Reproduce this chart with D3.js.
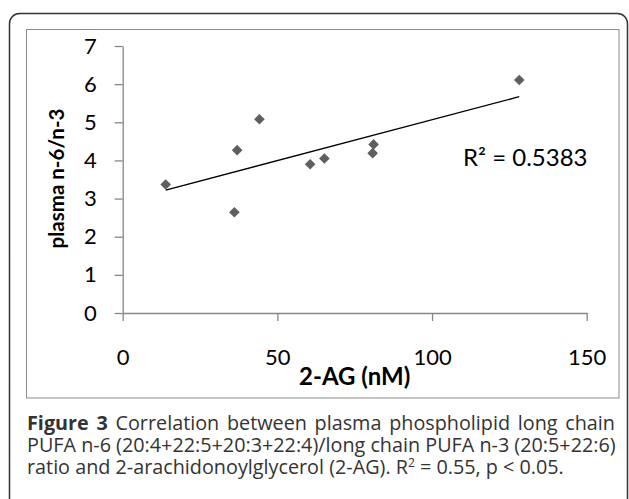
<!DOCTYPE html>
<html>
<head>
<meta charset="utf-8">
<script src="https://cdn.jsdelivr.net/npm/d3@7"></script>
<style>
  body { margin: 0; background: #fff; }
  svg { display: block; }
  .tick text { font-family: Lato, "Open Sans", sans-serif; font-size: 22px; fill: #000; }
  .axis path, .axis line { stroke: #868686; stroke-width: 1.3; }
  .caption { font-family: "Open Sans", "Noto Sans", sans-serif; font-size: 19.8px; fill: #333; }
</style>
</head>
<body>
<svg id="chart" width="629" height="499"></svg>
<script>
// 数据：2-AG (nM) 与 plasma n-6/n-3
const agValues = [13.9, 36.1, 37.0, 44.2, 60.6, 65.2, 80.8, 81.1, 128.2];
const ratioValues = [3.37, 2.64, 4.27, 5.08, 3.90, 4.05, 4.19, 4.42, 6.11];
const xTicks = [0, 50, 100, 150];
const yTicks = [0, 1, 2, 3, 4, 5, 6, 7];
const xTitle = "2-AG (nM)";
const yTitle = "plasma n-6/n-3";
const rSquaredText = "R² = 0.5383";
const captionLines = [
    [{ t: "Figure 3", bold: true }, { t: " Correlation between plasma phospholipid long chain" }],
    [{ t: "PUFA n-6 (20:4+22:5+20:3+22:4)/long chain PUFA n-3 (20:5+22:6)" }],
    [{ t: "ratio and 2-arachidonoylglycerol (2-AG). R" }, { t: "2", sup: true }, { t: " = 0.55, p < 0.05." }]
];

const svg = d3.select("#chart");

// 外框与图表框
svg.append("rect")
    .attr("x", 9.5).attr("y", 13.5)
    .attr("width", 618).attr("height", 520)
    .attr("rx", 10)
    .attr("fill", "none").attr("stroke", "#333").attr("stroke-width", 1.5);

svg.append("rect")
    .attr("x", 26.5).attr("y", 29.5)
    .attr("width", 592.5).attr("height", 368.5)
    .attr("fill", "#fff").attr("stroke", "#8c8c8c").attr("stroke-width", 1);

// 比例尺
const x = d3.scaleLinear().domain([0, 150]).range([122.7, 586.7]);
const y = d3.scaleLinear().domain([0, 7]).range([313, 46]);

// 坐标轴
svg.append("g")
    .attr("class", "axis")
    .attr("transform", `translate(${x(0)},0)`)
    .call(d3.axisLeft(y).tickValues(yTicks).tickFormat(d3.format("d"))
        .tickSize(8).tickSizeOuter(0).tickPadding(18));

svg.append("g")
    .attr("class", "axis")
    .attr("transform", `translate(0,${y(0)})`)
    .call(d3.axisBottom(x).tickValues(xTicks).tickFormat(d3.format("d"))
        .tickSize(8).tickSizeOuter(0).tickPadding(28));

// 趋势线（最小二乘）
const mx = d3.mean(agValues), my = d3.mean(ratioValues);
let sxy = 0, sxx = 0;
agValues.forEach((v, i) => { sxy += (v - mx) * (ratioValues[i] - my); sxx += (v - mx) ** 2; });
const slope = sxy / sxx, intercept = my - slope * mx;
const [xmin, xmax] = d3.extent(agValues);

svg.append("line")
    .attr("x1", x(xmin)).attr("y1", y(intercept + slope * xmin))
    .attr("x2", x(xmax)).attr("y2", y(intercept + slope * xmax))
    .attr("stroke", "#000").attr("stroke-width", 1.4);

// 散点（菱形）
svg.append("g")
    .selectAll("path")
    .data(agValues.map((v, i) => ({ x: v, y: ratioValues[i] })))
    .enter().append("path")
    .attr("d", d3.symbol().type(d3.symbolDiamond2).size(72))
    .attr("transform", d => `translate(${x(d.x)},${y(d.y)})`)
    .attr("fill", "#5f5f5f");

// R² 标注
svg.append("text")
    .attr("x", 463).attr("y", 166)
    .attr("font-family", "Lato, sans-serif").attr("font-size", 24)
    .text(rSquaredText);

// 轴标题
svg.append("text")
    .attr("x", (x(0) + x(150)) / 2).attr("y", 385)
    .attr("text-anchor", "middle")
    .attr("font-family", "Lato, sans-serif").attr("font-size", 24).attr("font-weight", "bold")
    .text(xTitle);

svg.append("text")
    .attr("transform", `translate(64,${(y(0) + y(7)) / 2 - 1}) rotate(-90)`)
    .attr("text-anchor", "middle")
    .attr("font-family", "Lato, sans-serif").attr("font-size", 20.5).attr("font-weight", "bold")
    .text(yTitle);

// 图注
const captionX = 27, captionWidth = 588, lineGap = 22, firstBase = 430;
captionLines.forEach((parts, li) => {
    const t = svg.append("text")
        .attr("class", "caption")
        .attr("x", captionX)
        .attr("y", firstBase + li * lineGap);
    parts.forEach((p, pi) => {
        const s = t.append("tspan").text(p.t);
        if (p.bold) s.attr("font-weight", "bold");
        if (p.sup) s.attr("font-size", 12).attr("dy", -7);
        else if (pi > 0 && parts[pi - 1].sup) s.attr("dy", 7);
    });
    // 前两行两端对齐
    if (li < captionLines.length - 1) {
        const full = parts.map(p => p.t).join("");
        const spaces = (full.match(/ /g) || []).length;
        const extra = captionWidth - t.node().getComputedTextLength();
        if (spaces > 0 && extra > 0) t.attr("word-spacing", extra / spaces);
    }
});
</script>
</body>
</html>
